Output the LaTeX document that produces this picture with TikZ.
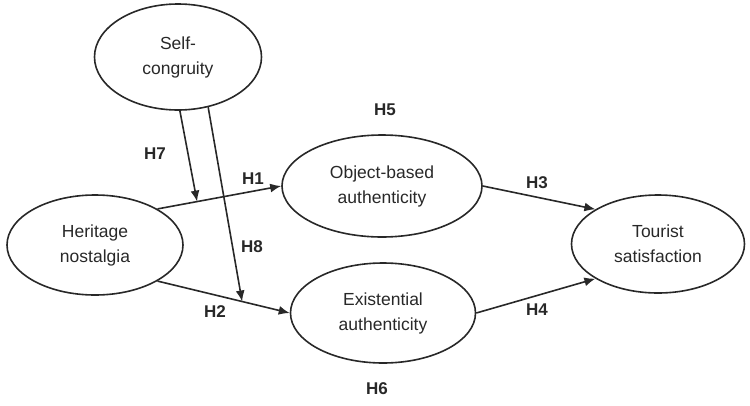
\documentclass[tikz,border=0pt]{standalone}
\usepackage{fontspec}
\setmainfont{Liberation Sans}
\usepackage{tikz}
\usetikzlibrary{arrows.meta, positioning, calc, shapes.geometric}
\definecolor{inkgray}{RGB}{40, 40, 40}

\begin{document}
\begin{tikzpicture}[
  x=1pt, y=-1pt,
  construct/.style={ellipse, draw=inkgray, line width=1.6pt, inner sep=0pt,
    font=\fontsize{17.5}{25}\selectfont, text=inkgray, align=center},
  hypo/.style={font=\fontsize{17}{20}\selectfont\bfseries, text=inkgray},
  arrow/.style={-{Latex[length=11pt, width=9pt]}, line width=1.6pt, inkgray}
]
\useasboundingbox (0, 0) rectangle (750, 405);

% Constructs
\node[construct, minimum width=167pt, minimum height=106pt] (selfcon) at (178, 57) {Self-\\congruity};
\node[construct, minimum width=176pt, minimum height=100pt] (heritage) at (95, 245) {Heritage\\nostalgia};
\node[construct, minimum width=200pt, minimum height=102pt] (objauth) at (382, 186) {Object-based\\authenticity};
\node[construct, minimum width=185pt, minimum height=100pt] (existauth) at (383, 313) {Existential\\authenticity};
\node[construct, minimum width=173pt, minimum height=98pt] (satisf) at (658, 244) {Tourist\\satisfaction};

% Direct paths
\draw[arrow] (heritage.30) -- coordinate[pos=0.32] (h7end) (objauth.west);
\draw[arrow] (heritage.-30) -- coordinate[pos=0.64] (h8end) (existauth.west);
\draw[arrow] (objauth.east) -- (satisf.151);
\draw[arrow] (existauth.east) -- (satisf.209);

% Moderating paths
\draw[arrow] (selfcon.-88) -- (h7end);
\draw[arrow] (selfcon.-59) -- (h8end);

% Hypothesis labels
\node[hypo] (h1) at (253, 179) {H1};
\node[hypo] (h2) at (215, 312) {H2};
\node[hypo] (h3) at (537, 183) {H3};
\node[hypo] (h4) at (537, 310) {H4};
\node[hypo] (h5) at (385, 110) {H5};
\node[hypo] (h6) at (377, 389) {H6};
\node[hypo] (h7) at (155, 154) {H7};
\node[hypo] (h8) at (252, 247) {H8};
\end{tikzpicture}
\end{document}
